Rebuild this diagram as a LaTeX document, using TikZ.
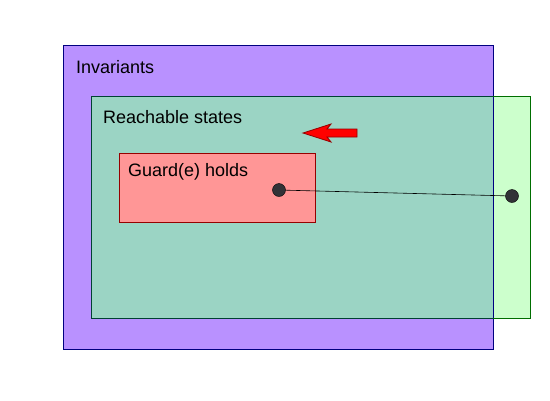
\documentclass[tikz,border=0pt]{standalone}
\usepackage{fontspec}
\setmainfont{Liberation Sans}
\definecolor{invfill}{RGB}{185,145,255}
\definecolor{invdraw}{RGB}{0,0,128}
\definecolor{reachfill}{RGB}{204,255,204}
\definecolor{reachdraw}{RGB}{0,110,0}
\definecolor{overlapfill}{RGB}{155,212,196}
\definecolor{guardfill}{RGB}{255,150,150}
\definecolor{guarddraw}{RGB}{150,0,0}
\definecolor{dotfill}{RGB}{50,50,55}
\tikzset{
  setlabel/.style={anchor=base west,inner sep=0pt,font=\fontsize{18}{20}\selectfont},
  statedot/.style={circle,draw=black,fill=dotfill,minimum size=13pt,inner sep=0pt}
}
\begin{document}
\begin{tikzpicture}[x=1pt,y=-1pt]
        \useasboundingbox (0,0) rectangle (550,400);
        %% invariants
        \draw[fill=invfill,draw=invdraw,line width=0.8pt] (63,45) rectangle (493,349);
        %% reachable states
        \fill[reachfill] (91,96) rectangle (530,318);
        \fill[overlapfill] (91,96) rectangle (493,318);
        \draw[invdraw,line width=0.8pt] (493,96) -- (493,318);
        \draw[reachdraw!60!invdraw,line width=0.8pt] (91,96) rectangle (530,318);
        \draw[reachdraw,line width=0.8pt] (493,96) -- (530,96) -- (530,318) -- (493,318);
        %% guard
        \draw[fill=guardfill,draw=guarddraw,line width=0.8pt] (119,153) rectangle (315,222);
        %% labels
        \node[setlabel] (inv) at (76,73) {Invariants};
        \node[setlabel] (reach) at (103,123) {Reachable states};
        \node[setlabel] (guard) at (128,176) {Guard(e) holds};
        %% states and transition
        \node[statedot] (s) at (279,190) {};
        \node[statedot] (t) at (512,196) {};
        \draw[line width=0.6pt] (s) -- (t);
        %% arrow
        \draw[fill=red,draw=guarddraw,line width=0.8pt] (303,133) -- (331,124) -- (327,129) -- (357,129)
            -- (357,137) -- (327,137) -- (331,142) -- cycle;
    \end{tikzpicture}
\end{document}
